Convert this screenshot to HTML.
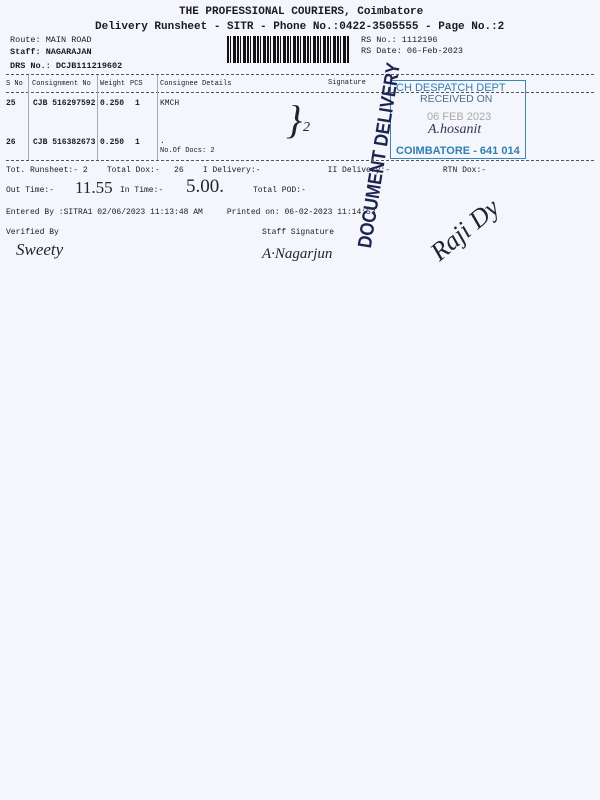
<!DOCTYPE html>
<html><head><meta charset="utf-8"><style>
body{margin:0;width:600px;height:800px;background:#f5f6fb;position:relative;overflow:hidden;font-family:"Liberation Mono",monospace;color:#1a1a22}
.t{position:absolute;white-space:nowrap;font-size:8px}
.b{font-weight:bold}
.h{position:absolute;left:6px;width:588px;border-top:1px dashed #555}
.v{position:absolute;width:0;border-left:1px solid #aaa}
.hw{position:absolute;font-family:"Liberation Serif",serif;font-style:italic;color:#223;white-space:nowrap}
</style></head><body>
<div class="t b" style="left:179px;top:6px;font-size:11px">THE PROFESSIONAL COURIERS, Coimbatore</div>
<div class="t b" style="left:95px;top:21px;font-size:11px">Delivery Runsheet - SITR - Phone No.:0422-3505555 - Page No.:2</div>
<div class="t" style="left:10px;top:35px;font-size:8.5px">Route: MAIN ROAD</div>
<div class="t b" style="left:10px;top:47px;font-size:8.5px">Staff: NAGARAJAN</div>
<div class="t b" style="left:10px;top:61px;font-size:8.5px">DRS No.: DCJB111219602</div>
<div style="position:absolute;left:227px;top:36px;width:123px;height:27px;background:repeating-linear-gradient(90deg,#111 0 2px,#f5f6fb 2px 3px,#111 3px 4px,#f5f6fb 4px 6px,#111 6px 9px,#f5f6fb 9px 10px)"></div>
<div class="t" style="left:361px;top:35px;font-size:8.5px">RS No.: 1112196</div>
<div class="t" style="left:361px;top:46px;font-size:8.5px">RS Date: 06-Feb-2023</div>
<div class="h" style="top:74px"></div>
<div class="t" style="left:6px;top:80px;font-size:7px">S No</div>
<div class="t" style="left:32px;top:80px;font-size:7px">Consignment No</div>
<div class="t" style="left:100px;top:80px;font-size:7px">Weight</div>
<div class="t" style="left:130px;top:80px;font-size:7px">PCS</div>
<div class="t" style="left:160px;top:80px;font-size:7px">Consignee Details</div>
<div class="t" style="left:328px;top:79px;font-size:7px">Signature</div>
<div class="h" style="top:92px"></div>
<div class="v" style="left:28px;top:75px;height:85px"></div>
<div class="v" style="left:97px;top:75px;height:85px"></div>
<div class="v" style="left:157px;top:75px;height:85px"></div>
<div class="t b" style="left:6px;top:99px">25</div>
<div class="t b" style="left:33px;top:99px">CJB 516297592</div>
<div class="t b" style="left:100px;top:99px">0.250</div>
<div class="t b" style="left:135px;top:99px">1</div>
<div class="t" style="left:160px;top:99px">KMCH</div>
<div class="t b" style="left:6px;top:138px">26</div>
<div class="t b" style="left:33px;top:138px">CJB 516382673</div>
<div class="t b" style="left:100px;top:138px">0.250</div>
<div class="t b" style="left:135px;top:138px">1</div>
<div class="t" style="left:160px;top:137px">.</div>
<div class="t" style="left:160px;top:147px;font-size:7px">No.Of Docs: 2</div>
<div class="hw" style="left:286px;top:96px;font-size:40px">}</div><div class="hw" style="left:303px;top:120px;font-size:14px">2</div>
<div class="h" style="top:160px"></div>
<div class="t" style="left:6px;top:166px">Tot. Runsheet:- 2&nbsp;&nbsp;&nbsp; Total Dox:-&nbsp;&nbsp; 26&nbsp;&nbsp;&nbsp; I Delivery:-&nbsp;&nbsp;&nbsp;&nbsp;&nbsp;&nbsp;&nbsp;&nbsp;&nbsp;&nbsp;&nbsp;&nbsp;&nbsp; II Delivery:-&nbsp;&nbsp;&nbsp;&nbsp;&nbsp;&nbsp;&nbsp;&nbsp;&nbsp;&nbsp; RTN Dox:-</div>
<div class="t" style="left:6px;top:186px">Out Time:-</div>
<div class="hw" style="left:75px;top:178px;font-size:17px;font-style:normal">11.55</div>
<div class="t" style="left:120px;top:186px">In Time:-</div>
<div class="hw" style="left:186px;top:176px;font-size:19px;font-style:normal">5.00.</div>
<div class="t" style="left:253px;top:186px">Total POD:-</div>
<div class="t" style="left:6px;top:208px">Entered By :SITRA1 02/06/2023 11:13:48 AM&nbsp;&nbsp;&nbsp;&nbsp; Printed on: 06-02-2023 11:14:53</div>
<div class="t" style="left:6px;top:228px">Verified By</div>
<div class="t" style="left:262px;top:228px">Staff Signature</div>
<div class="hw" style="left:16px;top:240px;font-size:17px">Sweety</div>
<div class="hw" style="left:262px;top:246px;font-size:15px">A·Nagarjun</div>
<div class="hw" style="left:425px;top:215px;font-size:26px;transform:rotate(-40deg)">Raji Dy</div>
<div style="position:absolute;left:390px;top:80px;width:134px;height:77px;border:1.5px solid #3a86b8"></div>
<div class="t" style="left:396px;top:82px;font-family:'Liberation Sans',sans-serif;font-size:11px;color:#2f7fb3">CH DESPATCH DEPT</div>
<div class="t" style="left:420px;top:93px;font-family:'Liberation Sans',sans-serif;font-size:10.5px;color:#4a6e90">RECEIVED ON</div>
<div class="t" style="left:427px;top:111px;font-family:'Liberation Sans',sans-serif;font-size:11px;color:#aaa">06 FEB 2023</div>
<div class="hw" style="left:428px;top:122px;font-size:14px;color:#335">A.hosanit</div>
<div class="t" style="left:396px;top:145px;font-family:'Liberation Sans',sans-serif;font-size:11px;color:#2f7fb3;font-weight:bold">COIMBATORE - 641 014</div>
<div class="t" style="left:290px;top:150px;font-family:'Liberation Sans',sans-serif;font-weight:bold;font-size:17px;color:#1d2450;transform:rotate(-81deg) scaleY(1.15);transform-origin:center;width:178px;text-align:center">DOCUMENT DELIVERY</div>
</body></html>
